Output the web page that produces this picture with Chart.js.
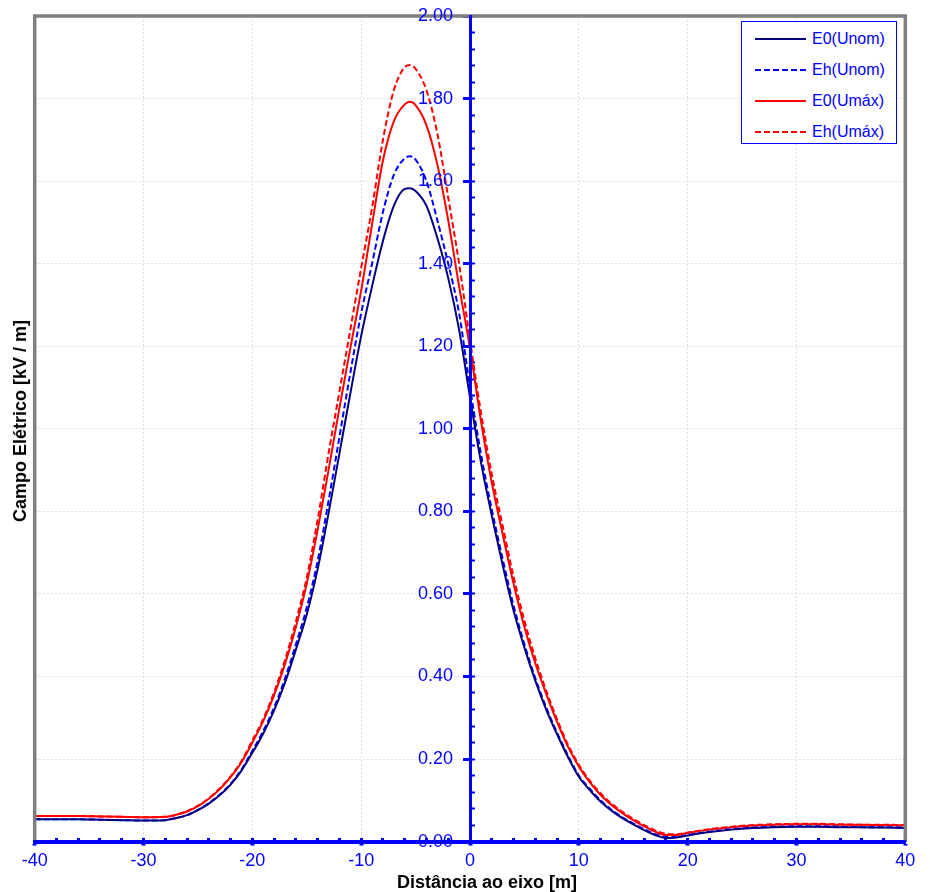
<!DOCTYPE html>
<html>
<head>
<meta charset="utf-8">
<script src="https://cdn.jsdelivr.net/npm/chart.js@4.4.1/dist/chart.umd.min.js"></script>
<style>
html,body{margin:0;padding:0;background:#fff;}
#wrap{position:relative;width:930px;height:892px;overflow:hidden;font-family:"Liberation Sans",Arial,sans-serif;}
#c{position:absolute;left:0;top:0;}
#legend{position:absolute;left:741px;top:21px;width:154px;height:121px;border:1px solid #0000ff;background:#fff;box-sizing:content-box;}
.lrow{position:absolute;left:13px;height:20px;display:flex;align-items:center;white-space:nowrap;}
.lrow svg{display:block;margin-right:6px;}
.lrow span{font-size:16px;color:#0000ff;line-height:20px;}
.atitle{position:absolute;font-weight:bold;font-size:18px;line-height:18px;white-space:nowrap;color:#000;}
#xtitle{top:873px;left:487px;transform:translateX(-50%);}
#ytitle{left:20px;top:421px;transform:translate(-50%,-50%) rotate(-90deg);}
</style>
</head>
<body>
<div id="wrap">
  <canvas id="c" width="930" height="892"></canvas>
  <div id="legend"></div>
  <div id="xtitle" class="atitle">Distância ao eixo [m]</div>
  <div id="ytitle" class="atitle">Campo Elétrico [kV / m]</div>
</div>
<script>
// ---- data ----
const distances = [-40,-38,-36,-34,-32,-30,-28,-27,-26,-25,-24,-23,-22,-21,-20,-19,-18,-17,-16,-15,-14,-13,-12,-11,-10,-9,-8,-7,-6,-5.5,-5,-4,-3,-2,-1,0,1,2,3,4,5,6,7,8,9,10,11,12,13,14,15,16,17,18,19,20,22,24,26,28,30,32,34,36,38,40];

const e0Unom = [0.054,0.054,0.054,0.053,0.052,0.051,0.052,0.057,0.064,0.076,0.092,0.112,0.138,0.172,0.215,0.262,0.318,0.385,0.465,0.55,0.66,0.795,0.94,1.085,1.225,1.345,1.455,1.54,1.581,1.583,1.576,1.54,1.462,1.365,1.24,1.076,0.92,0.79,0.67,0.56,0.47,0.39,0.32,0.26,0.205,0.157,0.125,0.097,0.075,0.057,0.042,0.028,0.016,0.009,0.010,0.015,0.023,0.029,0.033,0.035,0.036,0.036,0.035,0.035,0.034,0.033];

const ehUnom = [0.054,0.054,0.054,0.053,0.052,0.051,0.052,0.057,0.064,0.077,0.093,0.114,0.140,0.175,0.220,0.268,0.325,0.395,0.478,0.567,0.68,0.825,0.98,1.135,1.28,1.40,1.525,1.615,1.655,1.660,1.652,1.60,1.505,1.40,1.28,1.10,0.94,0.805,0.685,0.572,0.478,0.396,0.325,0.264,0.209,0.160,0.128,0.100,0.077,0.059,0.044,0.030,0.018,0.011,0.011,0.016,0.024,0.030,0.034,0.036,0.037,0.037,0.036,0.035,0.035,0.034];

const e0Umax = [0.062,0.062,0.062,0.061,0.060,0.059,0.060,0.065,0.073,0.086,0.104,0.127,0.156,0.192,0.240,0.292,0.355,0.430,0.520,0.625,0.755,0.90,1.05,1.195,1.335,1.495,1.65,1.745,1.786,1.792,1.784,1.735,1.64,1.505,1.345,1.195,1.02,0.87,0.745,0.625,0.52,0.432,0.358,0.29,0.23,0.182,0.144,0.113,0.089,0.069,0.052,0.037,0.024,0.016,0.016,0.021,0.029,0.035,0.039,0.041,0.042,0.042,0.041,0.041,0.040,0.039];

const ehUmax = [0.062,0.062,0.062,0.061,0.060,0.059,0.060,0.065,0.074,0.087,0.105,0.129,0.158,0.195,0.245,0.297,0.362,0.440,0.533,0.640,0.78,0.94,1.09,1.24,1.39,1.535,1.70,1.82,1.876,1.881,1.872,1.82,1.715,1.56,1.40,1.215,1.04,0.89,0.765,0.642,0.535,0.444,0.366,0.296,0.235,0.186,0.148,0.117,0.092,0.072,0.055,0.040,0.027,0.019,0.018,0.022,0.030,0.036,0.040,0.042,0.043,0.043,0.042,0.041,0.041,0.040];

const seriesLabels = ['E0(Unom)','Eh(Unom)','E0(Umáx)','Eh(Umáx)'];

// ---- styles ----
const FONT = '"Liberation Sans", Arial, sans-serif';
const seriesStyle = [
  {color:'#000080', dash:[]},
  {color:'#0000ff', dash:[6,3]},
  {color:'#ff0000', dash:[]},
  {color:'#ff0000', dash:[6,3]}
];
const seriesValues = [e0Unom, ehUnom, e0Umax, ehUmax];

const datasets = seriesValues.map((vals, k) => ({
  label: seriesLabels[k],
  data: distances.map((d, i) => ({x: d, y: vals[i]})),
  borderColor: seriesStyle[k].color,
  backgroundColor: seriesStyle[k].color,
  borderDash: seriesStyle[k].dash,
  borderWidth: 2,
  pointRadius: 0,
  fill: false,
  cubicInterpolationMode: 'monotone',
  xAxisID: 'x',
  yAxisID: 'y'
}));

const frame = {
  id: 'frame',
  afterDatasetsDraw(chart) {
    const {ctx, chartArea: a} = chart;
    ctx.save();
    ctx.strokeStyle = '#808080';
    ctx.lineWidth = 3.5;
    ctx.beginPath();
    ctx.moveTo(a.left, a.bottom);
    ctx.lineTo(a.left, a.top);
    ctx.lineTo(a.right, a.top);
    ctx.lineTo(a.right, a.bottom);
    ctx.stroke();
    ctx.restore();
  }
};

const noPad = s => { s.paddingTop = 0; s.paddingBottom = 0; };
const gridColor = '#dcdcdc';
const chart = new Chart(document.getElementById('c'), {
  type: 'line',
  data: { datasets },
  plugins: [frame],
  options: {
    responsive: false,
    animation: false,
    devicePixelRatio: 1,
    layout: { padding: {left: 34.7, right: 24.7, top: 16, bottom: 14.8} },
    plugins: { legend: {display: false}, tooltip: {enabled: false}, title: {display: false} },
    scales: {
      x: {
        type: 'linear', position: 'bottom', min: -40, max: 40,
        ticks: { stepSize: 10, color: '#0000ff', font: {family: FONT, size: 18}, padding: 5, z: 1, maxRotation: 0,
                 callback: v => String(v) },
        grid: { color: c => (c.tick && (c.tick.value === 0 || Math.abs(c.tick.value) === 40)) ? 'rgba(0,0,0,0)' : gridColor,
                lineWidth: 1, tickColor: '#0000ff', tickWidth: 4, tickLength: 4, drawTicks: true },
        border: { display: true, color: '#0000ff', width: 4, dash: [2,2], z: 1 }
      },
      x2: {
        type: 'linear', position: {y: 0}, min: -40, max: 40,
        ticks: { stepSize: 2, display: false },
        grid: { drawOnChartArea: false, tickColor: '#0000ff', tickWidth: 3, tickLength: -4, drawTicks: true },
        border: { display: false }
      },
      y: {
        type: 'linear', position: {x: 0}, min: 0, max: 2,
        ticks: { stepSize: 0.2, display: false },
        grid: { color: c => (c.tick && (c.tick.value <= 0.001 || c.tick.value >= 1.999)) ? 'rgba(0,0,0,0)' : gridColor,
                lineWidth: 1, tickColor: '#0000ff', tickWidth: 3, tickLength: 6, drawTicks: true },
        border: { display: true, color: '#0000ff', width: 3, dash: [2,2], z: 1 },
        afterFit: noPad
      },
      y2: {
        type: 'linear', position: {x: 0}, min: 0, max: 2,
        ticks: { stepSize: 0.04, display: false },
        grid: { drawOnChartArea: false, tickColor: '#0000ff', tickWidth: 2, tickLength: -5, drawTicks: true },
        border: { display: false },
        afterFit: noPad
      },
      yLab: {
        type: 'linear', position: {x: -1.55}, min: 0, max: 2,
        ticks: { stepSize: 0.2, color: '#0000ff', font: {family: FONT, size: 18}, padding: 0, z: 1,
                 callback: v => Number(v).toFixed(2) },
        grid: { display: false, drawTicks: false },
        border: { display: false },
        afterFit: noPad
      }
    }
  }
});

// ---- HTML legend built from the chart's datasets ----
const legendEl = document.getElementById('legend');
chart.data.datasets.forEach((ds, i) => {
  const row = document.createElement('div');
  row.className = 'lrow';
  row.style.top = (7 + i * 31) + 'px';
  const svgNS = 'http://www.w3.org/2000/svg';
  const svg = document.createElementNS(svgNS, 'svg');
  svg.setAttribute('width', '51'); svg.setAttribute('height', '4');
  const ln = document.createElementNS(svgNS, 'line');
  ln.setAttribute('x1', '0'); ln.setAttribute('y1', '2'); ln.setAttribute('x2', '51'); ln.setAttribute('y2', '2');
  ln.setAttribute('stroke', ds.borderColor); ln.setAttribute('stroke-width', '2');
  if (ds.borderDash && ds.borderDash.length) ln.setAttribute('stroke-dasharray', ds.borderDash.join(','));
  svg.appendChild(ln);
  const sp = document.createElement('span');
  sp.textContent = ds.label;
  row.appendChild(svg); row.appendChild(sp);
  legendEl.appendChild(row);
});
</script>
</body>
</html>
